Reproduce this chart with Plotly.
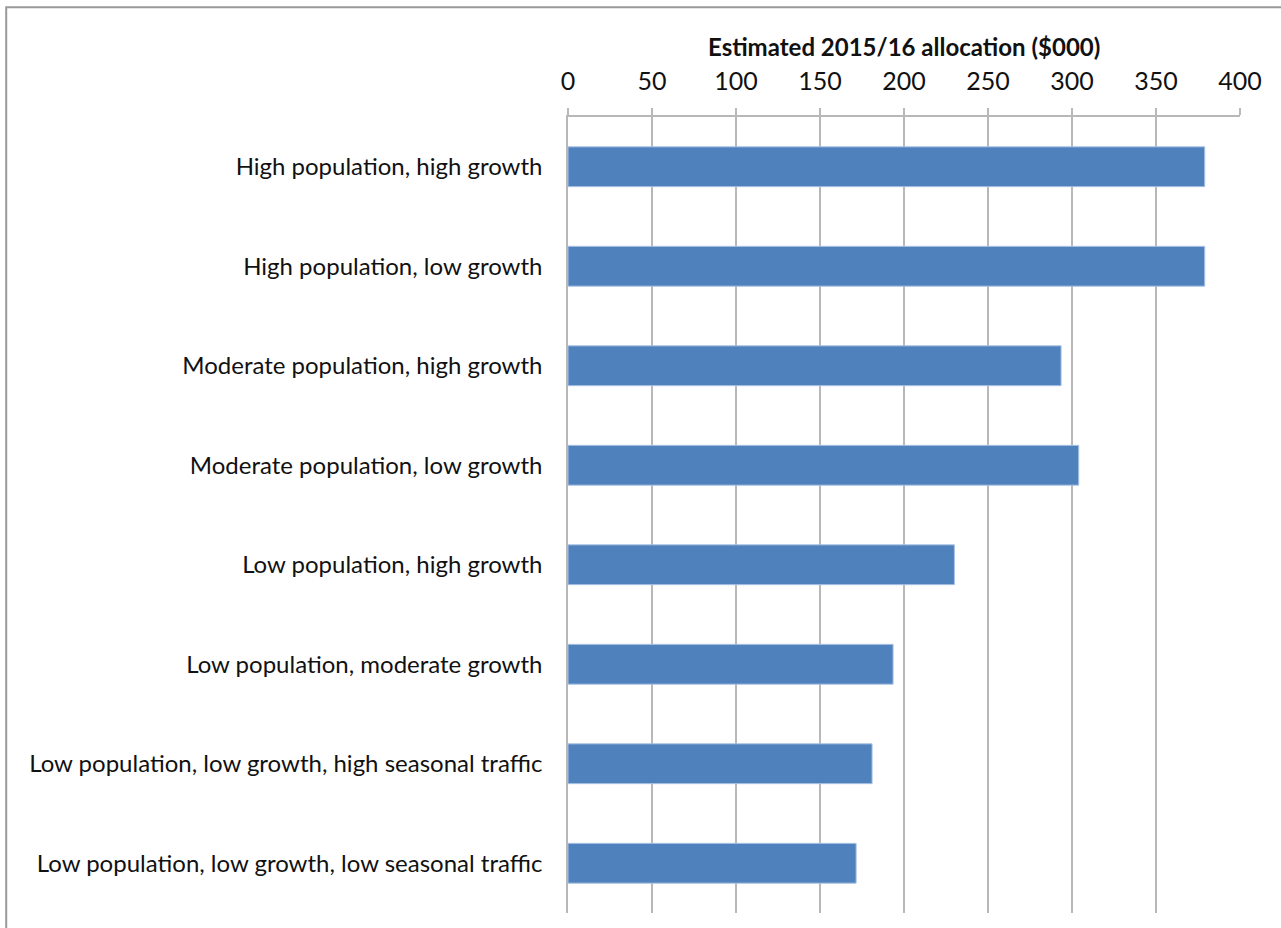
import plotly.graph_objects as go

# Region types and their estimated allocations ($000)
categories = [
    "High population, high growth",
    "High population, low growth",
    "Moderate population, high growth",
    "Moderate population, low growth",
    "Low population, high growth",
    "Low population, moderate growth",
    "Low population, low growth, high seasonal traffic",
    "Low population, low growth, low seasonal traffic",
]
allocations = [379, 379, 293.5, 304, 230, 193.5, 181, 171.5]
tick_values = [0, 50, 100, 150, 200, 250, 300, 350, 400]

FONT = "Lato, 'Open Sans', sans-serif"
GRID = "#b8b8b8"

fig = go.Figure(
    go.Bar(
        x=allocations,
        y=categories,
        orientation="h",
        width=0.4,
        marker=dict(color="#4f81bd", line=dict(color="#a9c2e3", width=1)),
        hoverinfo="x+y",
    )
)

fig.update_layout(
    width=1281,
    height=928,
    margin=dict(l=568, r=41, t=117, b=15),
    paper_bgcolor="white",
    plot_bgcolor="white",
    showlegend=False,
    font=dict(family=FONT, size=24, color="#111111"),
    xaxis=dict(
        side="top",
        range=[0, 400],
        tickvals=tick_values,
        ticktext=[str(v) for v in tick_values],
        showgrid=True,
        gridcolor=GRID,
        gridwidth=1.5,
        zeroline=False,
        showline=True,
        linecolor=GRID,
        linewidth=1.5,
        ticks="outside",
        ticklen=7,
        tickcolor=GRID,
        tickwidth=1.5,
        ticklabelstandoff=8,
        tickfont=dict(size=25),
    ),
    yaxis=dict(
        autorange="reversed",
        showgrid=False,
        zeroline=False,
        showline=True,
        linecolor=GRID,
        linewidth=1.5,
        ticks="",
        ticklabelstandoff=19,
        tickfont=dict(size=24),
    ),
    annotations=[
        dict(
            text="<b>Estimated 2015/16 allocation ($000)</b>",
            x=0.5,
            y=1.088,
            xref="paper",
            yref="paper",
            xanchor="center",
            yanchor="middle",
            showarrow=False,
            font=dict(size=24, family=FONT),
        )
    ],
    shapes=[
        dict(
            type="rect",
            xref="paper",
            yref="paper",
            x0=-0.836,
            x1=1.2,
            y0=-0.2,
            y1=1.138,
            line=dict(color="#999999", width=2),
            fillcolor="rgba(0,0,0,0)",
            layer="below",
        )
    ],
)

fig.write_html("out.html")
